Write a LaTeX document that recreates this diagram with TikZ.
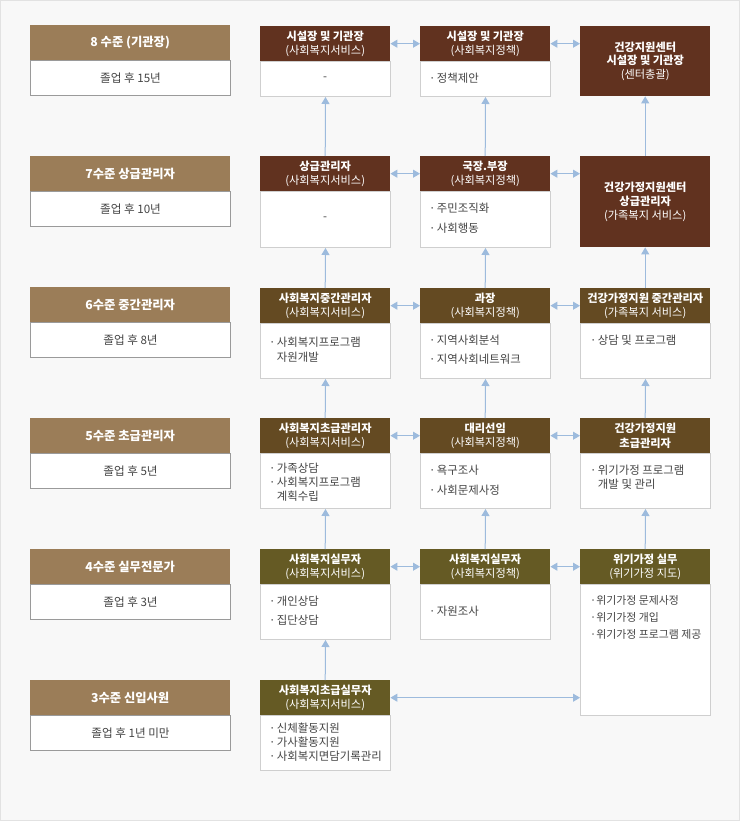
\documentclass[tikz,border=0pt]{standalone}
\usepackage{fontspec}
\setmainfont{Noto Sans CJK KR}
\usetikzlibrary{arrows.meta}
\definecolor{bgc}{HTML}{F8F8F8}
\definecolor{framec}{HTML}{E2E2E2}
\definecolor{lhead}{HTML}{9B7D58}
\definecolor{hA}{HTML}{61321F}
\definecolor{hB}{HTML}{644A22}
\definecolor{hC}{HTML}{655A24}
\definecolor{arr}{HTML}{9DBBDD}
\definecolor{lborder}{HTML}{9A9A9A}
\definecolor{cborder}{HTML}{CFCFCF}
\definecolor{txt}{HTML}{444444}
\newcommand{\bu}{·\hspace{0.12em}}
\newcommand{\bi}{\phantom{·}\hspace{0.12em}}
\begin{document}
\begin{tikzpicture}[x=1pt,y=-1pt,
  lh/.style={anchor=north west, fill=lhead, text=white, minimum width=200pt, minimum height=35pt, inner sep=0pt, font=\fontsize{12.3}{14}\selectfont\bfseries},
  lb/.style={anchor=north west, draw=lborder, line width=1pt, fill=white, minimum width=200pt, minimum height=35pt, inner sep=0pt, text=txt, font=\fontsize{11.6}{13}\selectfont},
  jh/.style={anchor=north west, fill=#1, text=white, minimum width=130pt, minimum height=35pt, inner sep=0pt, align=center, font=\fontsize{11.2}{14.5}\selectfont},
  jf/.style 2 args={anchor=north west, fill=hA, text=white, minimum width=130pt, minimum height=#1, inner sep=0pt, align=center, font=\fontsize{11.2}{#2}\selectfont},
  jb/.style={anchor=north west, draw=cborder, line width=1pt, fill=white, minimum width=130pt, minimum height=#1, inner sep=0pt},
  it/.style={anchor=west, align=left, inner sep=0pt, text=txt, font=\fontsize{11.4}{#1}\selectfont},
  up/.style={draw=arr, line width=1pt, -{Triangle[length=7pt,width=8pt]}},
  both/.style={draw=arr, line width=1pt, {Triangle[length=7pt,width=8pt]}-{Triangle[length=7pt,width=8pt]}}
]
\useasboundingbox (0,0) rectangle (740,821);
\draw[draw=framec, fill=bgc, line width=1pt] (0.5,0.5) rectangle (739.5,820.5);

% ---------- left level boxes ----------
\node[lb] (lb1) at (30,60) {졸업 후 15년};
\node[lh] (lh1) at (30,25) {8 수준 (기관장)};
\node[lb] (lb2) at (30,191) {졸업 후 10년};
\node[lh] (lh2) at (30,156) {7수준 상급관리자};
\node[lb] (lb3) at (30,322) {졸업 후 8년};
\node[lh] (lh3) at (30,287) {6수준 중간관리자};
\node[lb] (lb4) at (30,453) {졸업 후 5년};
\node[lh] (lh4) at (30,418) {5수준 초급관리자};
\node[lb] (lb5) at (30,584) {졸업 후 3년};
\node[lh] (lh5) at (30,549) {4수준 실무전문가};
\node[lb] (lb6) at (30,715) {졸업 후 1년 미만};
\node[lh] (lh6) at (30,680) {3수준 신입사원};

% ---------- row 1 ----------
\node[jb=35pt] (b21) at (260,61) {};
\node[jh=hA] (h21) at (260,26) {{\bfseries 시설장 및 기관장}\\(사회복지서비스)};
\node[jb=35pt] (b31) at (420,61) {};
\node[jh=hA] (h31) at (420,26) {{\bfseries 시설장 및 기관장}\\(사회복지정책)};
\node[jf={70pt}{13.7}] (f41) at (580,26) {{\bfseries 건강지원센터}\\{\bfseries 시설장 및 기관장}\\(센터총괄)};
\node[it=14, anchor=center] (t21) at (325,78.5) {-};
\node[it=14] (t31) at (429,78.5) {\bu 정책제안};

% ---------- row 2 ----------
\node[jb=56pt] (b22) at (260,191) {};
\node[jh=hA] (h22) at (260,156) {{\bfseries 상급관리자}\\(사회복지서비스)};
\node[jb=56pt] (b32) at (420,191) {};
\node[jh=hA] (h32) at (420,156) {{\bfseries 국장.부장}\\(사회복지정책)};
\node[jf={91pt}{13.7}] (f42) at (580,156) {{\bfseries 건강가정지원센터}\\{\bfseries 상급관리자}\\(가족복지 서비스)};
\node[it=14, anchor=center] (t22) at (325,219) {-};
\node[it=20] (t32) at (429,218) {\bu 주민조직화\\\bu 사회행동};

% ---------- row 3 ----------
\node[jb=55pt] (b23) at (260,323) {};
\node[jh=hB] (h23) at (260,288) {{\bfseries 사회복지중간관리자}\\(사회복지서비스)};
\node[jb=55pt] (b33) at (420,323) {};
\node[jh=hB] (h33) at (420,288) {{\bfseries 과장}\\(사회복지정책)};
\node[jb=55pt] (b43) at (580,323) {};
\node[jh=hB] (h43) at (580,288) {{\bfseries 건강가정지원 중간관리자}\\(가족복지 서비스)};
\node[it=15] (t23) at (269,350) {\bu 사회복지프로그램\\\bi 자원개발};
\node[it=19.5] (t33) at (429,349.7) {\bu 지역사회분석\\\bu 지역사회네트워크};
\node[it=14] (t43) at (590,340) {\bu 상담 및 프로그램};

% ---------- row 4 ----------
\node[jb=55pt] (b24) at (260,453) {};
\node[jh=hB] (h24) at (260,418) {{\bfseries 사회복지초급관리자}\\(사회복지서비스)};
\node[jb=55pt] (b34) at (420,453) {};
\node[jh=hB] (h34) at (420,418) {{\bfseries 대리선임}\\(사회복지정책)};
\node[jb=55pt] (b44) at (580,453) {};
\node[jh=hB] (h44) at (580,418) {{\bfseries 건강가정지원}\\{\bfseries 초급관리자}};
\node[it=14] (t24) at (269,482) {\bu 가족상담\\\bu 사회복지프로그램\\\bi 계획수립};
\node[it=20] (t34) at (429,480) {\bu 욕구조사\\\bu 사회문제사정};
\node[it=14] (t44) at (590,477) {\bu 위기가정 프로그램\\\bi 개발 및 관리};

% ---------- row 5 ----------
\node[jb=55pt] (b25) at (260,584) {};
\node[jh=hC] (h25) at (260,549) {{\bfseries 사회복지실무자}\\(사회복지서비스)};
\node[jb=55pt] (b35) at (420,584) {};
\node[jh=hC] (h35) at (420,549) {{\bfseries 사회복지실무자}\\(사회복지정책)};
\node[jb=131pt] (b45) at (580,584) {};
\node[jh=hC] (h45) at (580,549) {{\bfseries 위기가정 실무}\\(위기가정 지도)};
\node[it=19] (t25) at (269,611) {\bu 개인상담\\\bu 집단상담};
\node[it=14] (t35) at (429,611.7) {\bu 자원조사};
\node[it=16.8, font=\fontsize{10.9}{16.8}\selectfont] (t45) at (590,617.5) {·위기가정 문제사정\\·위기가정 개입\\·위기가정 프로그램 제공};

% ---------- row 6 ----------
\node[jb=55pt] (b26) at (260,715) {};
\node[jh=hC] (h26) at (260,680) {{\bfseries 사회복지초급실무자}\\(사회복지서비스)};
\node[it=14] (t26) at (269,742) {\bu 신체활동지원\\\bu 가사활동지원\\\bu 사회복지면담기록관리};

% ---------- vertical connectors ----------
\draw[up] (h22.north) -- (b21.south);
\draw[up] (h23.north) -- (b22.south);
\draw[up] (h24.north) -- (b23.south);
\draw[up] (h25.north) -- (b24.south);
\draw[up] (h26.north) -- (b25.south);
\draw[up] (h32.north) -- (b31.south);
\draw[up] (h33.north) -- (b32.south);
\draw[up] (h34.north) -- (b33.south);
\draw[up] (h35.north) -- (b34.south);
\draw[up] (f42.north) -- (f41.south);
\draw[up] (h43.north) -- (f42.south);
\draw[up] (h44.north) -- (b43.south);
\draw[up] (h45.north) -- (b44.south);

% ---------- horizontal connectors ----------
\draw[both] (h21.east) -- (h31.west);
\draw[both] (h31.east) -- (h31.east -| f41.west);
\draw[both] (h22.east) -- (h32.west);
\draw[both] (h32.east) -- (h32.east -| f42.west);
\draw[both] (h23.east) -- (h33.west);
\draw[both] (h33.east) -- (h43.west);
\draw[both] (h24.east) -- (h34.west);
\draw[both] (h34.east) -- (h44.west);
\draw[both] (h25.east) -- (h35.west);
\draw[both] (h35.east) -- (h45.west);
\draw[both] (h26.east) -- (h26.east -| b45.west);
\end{tikzpicture}
\end{document}
